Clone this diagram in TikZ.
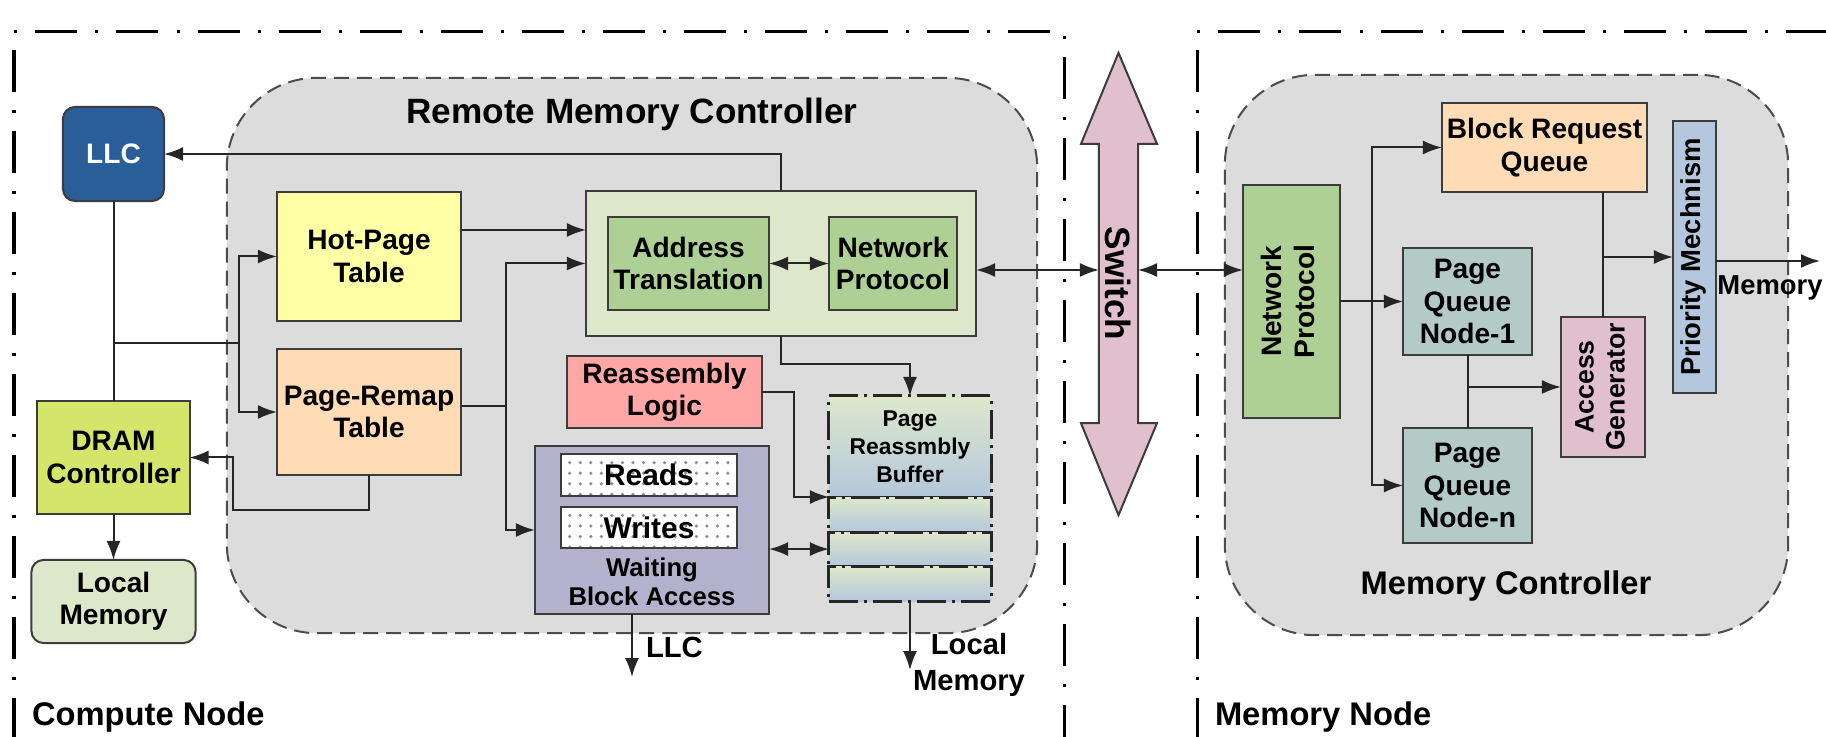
\documentclass[tikz,border=0pt]{standalone}
\usepackage{fontspec}
\setmainfont{Liberation Sans}
\usetikzlibrary{arrows.meta,patterns}
\definecolor{mcgray}{RGB}{220,220,220}
\definecolor{llcblue}{RGB}{42,94,152}
\definecolor{hotyellow}{RGB}{255,255,166}
\definecolor{peach}{RGB}{255,219,182}
\definecolor{dramgreen}{RGB}{212,230,106}
\definecolor{palegreen}{RGB}{221,232,203}
\definecolor{midgreen}{RGB}{175,208,149}
\definecolor{salmon}{RGB}{255,166,166}
\definecolor{lavender}{RGB}{180,177,204}
\definecolor{paleblue}{RGB}{180,199,220}
\definecolor{switchpink}{RGB}{224,192,204}
\definecolor{queuegray}{RGB}{179,202,199}
\definecolor{edge}{RGB}{60,60,60}
\newcommand{\vtext}[2][90]{\rotatebox{#1}{\begin{tabular}{@{}c@{}}#2\end{tabular}}}
\begin{document}
\begin{tikzpicture}[x=0.01cm,y=-0.01cm,
font=\fontsize{8}{9.2}\selectfont\bfseries,
>={Latex[length=1.9mm,width=1.4mm]},
box/.style={draw=edge,line width=0.2mm,inner sep=0pt,outer sep=0pt,align=center},
wire/.style={draw=black!85,line width=0.2mm},
arr/.style={wire,->},
biarr/.style={wire,<->},
frame/.style={line width=0.3mm,dash pattern=on 4.2mm off 1.8mm on 0.3mm off 1.8mm},
ctrl/.style={draw=black!70,fill=mcgray,line width=0.2mm,dash pattern=on 1.5mm off 0.8mm,rounded corners=0.9cm,inner sep=0pt,outer sep=0pt},
buf/.style={box,draw=black!85,top color=palegreen,bottom color=paleblue,line width=0.3mm,dash pattern=on 2.9mm off 0.6mm on 0.3mm off 0.6mm,minimum width=1.62cm},
lbl/.style={inner sep=0pt,outer sep=0pt,align=center}]
\useasboundingbox (0,0) rectangle (1826,737);
\draw[frame] (14,740) -- (14,32) -- (1064,32) -- (1064,740);
\draw[frame] (1197,740) -- (1197,32) -- (1830,32);
\node[ctrl,minimum width=8.10cm,minimum height=5.55cm] (rmc) at (632,355.5) {};
\node[ctrl,minimum width=5.63cm,minimum height=5.60cm] (mmc) at (1506.5,355) {};
\node[lbl,font=\fontsize{10}{12}\selectfont\bfseries] (rmctitle) at (632,114) {Remote Memory Controller};
\node[lbl,font=\fontsize{9.3}{11}\selectfont\bfseries] (mmctitle) at (1506,586) {Memory Controller};
\node[lbl,anchor=west,font=\fontsize{9.3}{11}\selectfont\bfseries] (cnode) at (32,717) {Compute Node};
\node[lbl,anchor=west,font=\fontsize{9.3}{11}\selectfont\bfseries] (mnode) at (1215,717) {Memory Node};
\node[box,fill=llcblue,text=white,rounded corners=0.12cm,minimum width=1.01cm,minimum height=0.94cm] (llc) at (113.5,154) {LLC};
\node[box,fill=hotyellow,minimum width=1.84cm,minimum height=1.29cm] (hpt) at (369,256.5) {Hot-Page\\Table};
\node[box,fill=peach,minimum width=1.84cm,minimum height=1.26cm] (prt) at (369,412) {Page-Remap\\Table};
\node[box,fill=dramgreen,minimum width=1.52cm,minimum height=1.13cm] (dram) at (113.5,457.5) {DRAM\\Controller};
\node[box,fill=palegreen,rounded corners=0.12cm,minimum width=1.64cm,minimum height=0.83cm] (lmem) at (113.5,601.5) {Local\\Memory};
\node[box,fill=palegreen,minimum width=3.90cm,minimum height=1.45cm] (gbox) at (781,263.5) {};
\node[box,fill=midgreen,minimum width=1.61cm,minimum height=0.93cm] (at) at (688.5,263.5) {Address\\Translation};
\node[box,fill=midgreen,minimum width=1.28cm,minimum height=0.93cm] (np) at (893,263.5) {Network\\Protocol};
\node[box,fill=salmon,minimum width=1.95cm,minimum height=0.72cm] (rl) at (664.5,392) {Reassembly\\Logic};
\node[box,fill=lavender,minimum width=2.34cm,minimum height=1.68cm] (wba) at (652,530) {};
\node[box,preaction={fill=white},pattern=dots,pattern color=black!45,minimum width=1.76cm,minimum height=0.41cm,font=\fontsize{8.5}{10}\selectfont\bfseries] (reads) at (649,475) {Reads};
\node[box,preaction={fill=white},pattern=dots,pattern color=black!45,minimum width=1.76cm,minimum height=0.41cm,font=\fontsize{8.5}{10}\selectfont\bfseries] (writes) at (649,527.5) {Writes};
\node[lbl,font=\fontsize{7.3}{8.3}\selectfont\bfseries] (wbatext) at (652,582) {Waiting\\Block Access};
\node[buf,minimum height=1.01cm,font=\fontsize{6.5}{8}\selectfont\bfseries] (prb1) at (910,446.5) {Page\\Reassmbly\\Buffer};
\node[buf,minimum height=0.35cm,anchor=north] (prb2) at (prb1.south) {};
\node[buf,minimum height=0.34cm,anchor=north] (prb3) at (prb2.south) {};
\node[buf,minimum height=0.35cm,anchor=north] (prb4) at (prb3.south) {};
\node[lbl,anchor=west,font=\fontsize{8.3}{10}\selectfont\bfseries] (llcout) at (646,647) {LLC};
\node[lbl,font=\fontsize{8.3}{10}\selectfont\bfseries] (lmemout) at (969,665) {Local\\Memory};
\node[inner sep=0pt,outer sep=0pt,minimum width=0.39cm,minimum height=2.79cm] (switch) at (1118.5,283.5) {};
\draw[fill=switchpink,draw=edge,line width=0.2mm] (switch.north west) -- ++(-18,0) -- ([yshift=0.91cm]switch.north) -- ([xshift=0.19cm]switch.north east) -- (switch.north east) -- (switch.south east) -- ++(19,0) -- ([yshift=-0.92cm]switch.south) -- ([xshift=-0.18cm]switch.south west) -- (switch.south west) -- cycle;
\node[lbl,font=\fontsize{10}{12}\selectfont\bfseries] (swtext) at (switch) {\rotatebox{-90}{Switch}};
\node[box,fill=midgreen,minimum width=0.97cm,minimum height=2.33cm] (mnp) at (1291.5,301.5) {\vtext{Network\\Protocol}};
\node[box,fill=peach,minimum width=2.05cm,minimum height=0.89cm] (brq) at (1544.5,147.5) {Block Request\\Queue};
\node[box,fill=queuegray,minimum width=1.29cm,minimum height=1.07cm] (pq1) at (1467.5,301.5) {Page\\Queue\\Node-1};
\node[box,fill=queuegray,minimum width=1.29cm,minimum height=1.15cm] (pqn) at (1467.5,485.5) {Page\\Queue\\Node-n};
\node[box,fill=switchpink,minimum width=0.84cm,minimum height=1.40cm,font=\fontsize{7.6}{8.8}\selectfont\bfseries] (ag) at (1603,387) {\vtext{Access\\Generator}};
\node[box,fill=paleblue,minimum width=0.43cm,minimum height=2.72cm,font=\fontsize{7.8}{9}\selectfont\bfseries] (pm) at (1694.5,257) {\vtext{Priority Mechnism}};
\node[lbl,font=\fontsize{7.8}{9}\selectfont\bfseries] (memout) at (1770,288) {Memory};
\draw[arr] (gbox.north) |- (llc.east);
\draw[wire] (llc.south) -- (dram.north);
\draw[arr] ([yshift=-1.42cm]llc.south) -- ++(125,0) coordinate (j2) |- (hpt.west);
\draw[arr] (j2) |- (prt.west);
\draw[arr] ([yshift=0.265cm]hpt.east) coordinate (h1) -- (h1 -| gbox.west);
\draw[wire] ([yshift=0.06cm]prt.east) -- ++(45,0) coordinate (j3);
\draw[arr] (j3) |- (gbox.west);
\draw[arr] (j3) |- (wba.west);
\draw[arr] (prt.south) -- ++(0,35) -- ++(-136,0) |- (dram.east);
\draw[arr] (dram.south) -- (lmem.north);
\draw[biarr] (at.east) -- (np.west);
\draw[arr] (gbox.south) -- ++(0,28) -| (prb1.north);
\draw[arr] (rl.east) -- ++(32,0) |- (prb1.south west);
\draw[biarr] (prb3.west -| wba.east) -- (prb3.west);
\draw[arr] ([xshift=-0.2cm]wba.south) -- ++(0,63);
\draw[arr] (prb4.south) -- ++(0,69);
\draw[biarr] ([yshift=-0.065cm]gbox.east) coordinate (s1) -- (s1 -| switch.west);
\draw[biarr] (s1 -| switch.east) -- (s1 -| mnp.west);
\draw[arr] (mnp.east) -- (pq1.west);
\draw[arr] ([xshift=0.32cm]mnp.east) |- (brq.west);
\draw[arr] ([xshift=0.32cm]mnp.east) |- (pqn.west);
\draw[wire] (ag.north |- brq.south) -- (ag.north);
\draw[arr] (ag.north |- pm.west) -- (pm.west);
\draw[wire] (pq1.south) -- (pqn.north);
\draw[arr] (pq1.south |- ag.west) -- (ag.west);
\draw[arr] ([yshift=-0.04cm]pm.east) -- ++(104,0);
\end{tikzpicture}
\end{document}
